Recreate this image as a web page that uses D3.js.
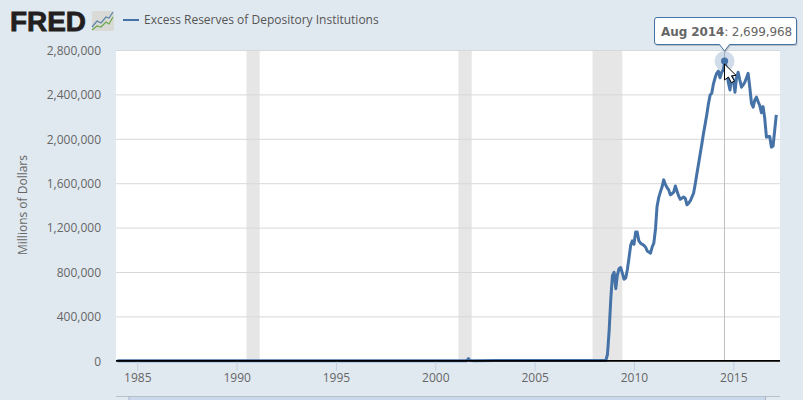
<!DOCTYPE html>
<html><head><meta charset="utf-8">
<script src="https://cdn.jsdelivr.net/npm/d3@7"></script>
<style>
html,body{margin:0;padding:0;background:#e1e9f0;overflow:hidden}
svg{display:block}
text{font-family:"Open Sans",sans-serif}
</style></head><body>
<svg id="c" width="803" height="400"></svg>
<script>
const seriesName = "Excess Reserves of Depository Institutions";
const yTicks = [0,400000,800000,1200000,1600000,2000000,2400000,2800000];
const xTickYears = [1985,1990,1995,2000,2005,2010,2015];
const recessions = [["1990-07","1991-03"],["2001-03","2001-11"],["2007-12","2009-06"]];
const earlyDates = ["1984-01","1985-01","1986-01","1987-01","1987-06","1988-01","1989-01","1990-01","1991-01","1992-01","1993-01","1994-01","1995-01","1996-01","1997-01","1998-01","1999-01","2000-01","2001-01","2001-08","2001-09","2001-10","2002-01","2003-01","2004-01","2005-01","2006-01","2007-01","2008-01","2008-08"];
const earlyValues = [1200,1000,1300,1100,1500,1200,1000,1100,1500,1200,1300,1100,1200,1100,1200,1300,1200,1100,1300,1500,19000,3000,1500,1900,1700,1800,1700,1600,1800,2000];
const lateStart = "2008-09";
const lateValues = [
 59000,267000,559000,767000,
 798000,650000,770000,830000,840000,790000,735000,745000,820000,925000,1040000,1080000,
 1050000,1160000,1160000,1080000,1060000,1050000,1040000,1025000,990000,980000,970000,1025000,
 1060000,1190000,1390000,1470000,1520000,1565000,1630000,1590000,1560000,1540000,1495000,1505000,
 1520000,1575000,1530000,1485000,1455000,1465000,1475000,1465000,1405000,1420000,1440000,1475000,
 1510000,1595000,1680000,1770000,1860000,1950000,2045000,2130000,2220000,2315000,2395000,2410000,
 2495000,2550000,2590000,2610000,2550000,2600000,2620000,2699968,
 2620000,2510000,2440000,2565000,2530000,2420000,2550000,2600000,2530000,2465000,2485000,2510000,2550000,2590000,2460000,2320000,2285000,2350000,2375000,2335000,2300000,2235000,2290000,2185000,2015000,2020000,2020000,1925000,1935000,2080000,2215000];
const tooltipDate = "Aug 2014", tooltipValue = "2,699,968", tooltipAt = "2014-08";

const parse = d3.timeParse("%Y-%m");
const lateDates = lateValues.map((_, i) => d3.timeMonth.offset(parse(lateStart), i));
const data = earlyDates.map((d, i) => ({d: parse(d), v: earlyValues[i]}))
  .concat(lateDates.map((d, i) => ({d, v: lateValues[i]})));

const svg = d3.select("#c");
const L = 116, R = 780, T = 50, B = 360.8;
const x = d3.scaleTime().domain([new Date(1985,0,1), new Date(2015,0,1)]).range([137.3,733.3]);
const y = d3.scaleLinear().domain([0,2800000]).range([B,T]);

svg.append("rect").attr("x",L).attr("y",T).attr("width",R-L).attr("height",B-T).attr("fill","#fff");

svg.append("g").selectAll("rect").data(recessions).join("rect")
  .attr("x", d => x(parse(d[0]))).attr("width", d => x(parse(d[1])) - x(parse(d[0])))
  .attr("y",T).attr("height",B-T).attr("fill","#e6e6e6");

// y axis + grid
const ya = svg.append("g").attr("transform",`translate(${L},0)`)
  .call(d3.axisLeft(y).tickValues(yTicks).tickFormat(d3.format(",")).tickSize(-(R-L)).tickPadding(15));
ya.select(".domain").remove();
ya.selectAll("line").attr("stroke","#d8d8d8").attr("stroke-width",1);
ya.selectAll("text").attr("fill","#666").style("font-size","12px").attr("dy","0.36em").attr("dx","0");

svg.append("text").attr("transform","translate(27,205) rotate(-90)").attr("text-anchor","middle")
  .attr("fill","#666").style("font-size","12px").text("Millions of Dollars");

// crosshair
const hx = x(parse(tooltipAt));
svg.append("line").attr("x1",hx-0.5).attr("x2",hx-0.5).attr("y1",T).attr("y2",B).attr("stroke","#c0c0c0").attr("stroke-width",1);

// series
svg.append("path").datum(data).attr("fill","none").attr("stroke","#4572a7").attr("stroke-width",3)
  .attr("stroke-linejoin","round")
  .attr("d", d3.line().x(d => x(d.d)).y(d => y(d.v)));

// x axis
const xa = svg.append("g").attr("transform",`translate(0,${B})`)
  .call(d3.axisBottom(x).tickValues(xTickYears.map(t => new Date(t,0,1))).tickFormat(d3.timeFormat("%Y")).tickSize(10).tickPadding(3));
xa.select(".domain").remove();
xa.selectAll("line").attr("stroke","#c0d0e0");
xa.selectAll("text").attr("fill","#666").style("font-size","12px");
svg.append("line").attr("x1",L).attr("x2",R).attr("y1",B).attr("y2",B).attr("stroke","#000").attr("stroke-width",1.8);

// hover marker
const hv = data.find(d => +d.d === +parse(tooltipAt)).v;
svg.append("circle").attr("cx",hx-0.4).attr("cy",y(hv)).attr("r",10).attr("fill","#4572a7").attr("opacity",.25);
svg.append("circle").attr("cx",hx-0.4).attr("cy",y(hv)).attr("r",3.6).attr("fill","#4572a7");

// cursor
svg.append("path").attr("transform",`translate(${hx-0.5},64)`)
  .attr("d","M0,0 L0,16 L4,13 L6.8,18.6 L10,17.2 L7,11.8 L11.6,11.4 Z")
  .attr("fill","#fff").attr("stroke","#000").attr("stroke-width",1);

// tooltip
const tt = svg.append("g");
const ttShape = `M657,17.5 H794 Q796.5,17.5 796.5,20 V42 Q796.5,44.5 794,44.5 H729.5 L724.5,51 L719.5,44.5 H657 Q654.5,44.5 654.5,42 V20 Q654.5,17.5 657,17.5 Z`;
tt.append("path").attr("d",ttShape).attr("transform","translate(1,1.5)").attr("fill","#000").attr("opacity",.18);
tt.append("path").attr("d",ttShape).attr("fill","#fff").attr("stroke","#4572a7").attr("stroke-width",1);
const tx = tt.append("text").attr("x",661).attr("y",35.5).attr("fill","#666")
  .style("font-family","'DejaVu Sans',sans-serif").style("font-size","12px").style("letter-spacing","-0.1px");
tx.append("tspan").attr("font-weight","bold").text(tooltipDate);
tx.append("tspan").text(": " + tooltipValue);

// header: logo + legend
svg.append("text").attr("x",10).attr("y",30.5).attr("fill","#231f20")
  .style("font-family","'Liberation Sans',sans-serif").style("font-weight","700").style("font-size","27px")
  .attr("stroke","#231f20").attr("stroke-width",0.8)
  .attr("textLength",76).attr("lengthAdjust","spacingAndGlyphs").text("FRED");
const logo = svg.append("g").attr("transform","translate(92,11)");
logo.append("rect").attr("width",22).attr("height",20).attr("rx",2).attr("fill","#d9d9d6");
const logoBlue = [[0,16],[5,10],[9,12],[14,6],[17,7],[21,1]];
const logoGreen = [[0,19],[5,15],[9,16],[14,11],[17,13],[21,6]];
const ll = d3.line();
logo.append("path").attr("d",ll(logoBlue)).attr("fill","none").attr("stroke","#5b84ab").attr("stroke-width",1.2);
logo.append("path").attr("d",ll(logoGreen)).attr("fill","none").attr("stroke","#6aa84f").attr("stroke-width",1.2);
svg.append("line").attr("x1",123).attr("x2",139).attr("y1",20).attr("y2",20).attr("stroke","#4572a7").attr("stroke-width",2);
svg.append("text").attr("x",144).attr("y",24).attr("fill","#555").style("font-size","12px").text(seriesName);

// navigator strip at the bottom edge
svg.append("line").attr("x1",L).attr("x2",R).attr("y1",396.5).attr("y2",396.5).attr("stroke","#b8c0cc");
svg.append("rect").attr("x",129).attr("y",397).attr("width",636).attr("height",3).attr("fill","#c9d8ec");
svg.append("line").attr("x1",129).attr("x2",129).attr("y1",396).attr("y2",400).attr("stroke","#a8b4c4");
svg.append("line").attr("x1",765.5).attr("x2",765.5).attr("y1",396).attr("y2",400).attr("stroke","#a8b4c4");
</script></body></html>
